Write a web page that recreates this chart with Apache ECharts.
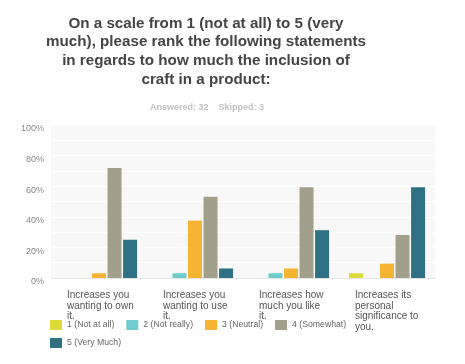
<!DOCTYPE html>
<html><head><meta charset="utf-8">
<script src="https://cdn.jsdelivr.net/npm/echarts@6/dist/echarts.min.js"></script>
<style>html,body{margin:0;padding:0;background:#fff}#c{width:465px;height:364px}</style>
</head><body><div id="c"></div>
<script>
var titleText = "On a scale from 1 (not at all) to 5 (very\nmuch), please rank the following statements\nin regards to how much the inclusion of\ncraft in a product:";
var subText = "Answered: 32    Skipped: 3";
var categories = ["Increases you\nwanting to own\nit.", "Increases you\nwanting to use\nit.", "Increases how\nmuch you like\nit.", "Increases its\npersonal\nsignificance to\nyou."];
var seriesNames = ["1 (Not at all)", "2 (Not really)", "3 (Neutral)", "4 (Somewhat)", "5 (Very Much)"];
var notAtAll = [0, 0, 0, 3.13];
var notReally = [0, 3.13, 3.13, 0];
var neutral = [3.13, 37.5, 6.25, 9.38];
var somewhat = [71.88, 53.13, 59.38, 28.13];
var veryMuch = [25, 6.25, 31.25, 59.38];
var yTicks = [0, 20, 40, 60, 80, 100];
var colors = ["#dfd93a", "#6fcbcc", "#f6b434", "#a29f8a", "#2f7084"];

var values = [notAtAll, notReally, neutral, somewhat, veryMuch];
var font = "Liberation Sans, Arial, sans-serif";
var chart = echarts.init(document.getElementById('c'));
chart.setOption({
  animation: false,
  color: colors,
  title: [
    {text: titleText, left: 201, top: 9, textAlign: 'center',
     textStyle: {fontFamily: font, fontSize: 15.2, fontWeight: 'bold', color: '#454545', lineHeight: 18.8}},
    {text: subText, left: 202, top: 98, textAlign: 'center',
     textStyle: {fontFamily: font, fontSize: 9, fontWeight: 'bold', color: '#c2c2c2'}}
  ],
  legend: [
    {data: seriesNames.slice(0, 4), left: 45, top: 315, itemWidth: 12, itemHeight: 10, itemGap: 12,
     icon: 'rect', textStyle: {fontFamily: font, fontSize: 8.7, color: '#666'}},
    {data: seriesNames.slice(4), left: 45, top: 333, itemWidth: 12, itemHeight: 10,
     icon: 'rect', textStyle: {fontFamily: font, fontSize: 8.7, color: '#666'}}
  ],
  grid: {left: 51, right: 30, top: 125, bottom: 86, show: true, backgroundColor: '#f8f8f8', borderWidth: 0},
  xAxis: {
    type: 'category', data: categories,
    axisLine: {show: true, lineStyle: {color: '#e6e6e6'}}, axisTick: {show: false},
    axisLabel: {
      interval: 0, margin: 12,
      formatter: function (v) { return v.split('\n').map(function (l) { return '{a|' + l + '}'; }).join('\n'); },
      rich: {a: {width: 64, align: 'left', fontFamily: font, fontSize: 10, color: '#555', lineHeight: 10.5}}
    }
  },
  yAxis: {
    type: 'value', min: 0, max: 100, interval: 20,
    axisLine: {show: false}, axisTick: {show: false},
    splitLine: {show: true, lineStyle: {color: '#ffffff', width: 1}},
    minorTick: {show: false, splitNumber: 2},
    minorSplitLine: {show: true, lineStyle: {color: '#ffffff', width: 1}},
    axisLabel: {margin: 7, verticalAlign: 'top', lineHeight: 8, fontFamily: font, fontSize: 9, color: '#888',
      formatter: function (v) { return yTicks.indexOf(v) >= 0 ? v + '%' : ''; }}
  },
  series: seriesNames.map(function (n, i) {
    return {name: n, type: 'bar', data: values[i], barWidth: 14, barGap: '11%'};
  })
});
</script></body></html>
